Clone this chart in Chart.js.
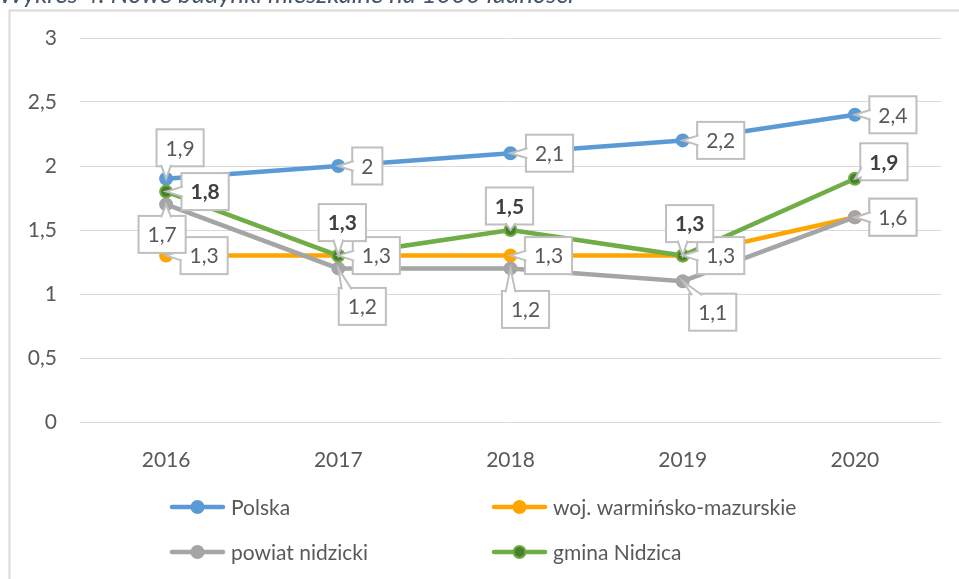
<!DOCTYPE html>
<html lang="pl">
<head>
<meta charset="utf-8">
<title>Nowe budynki mieszkalne na 1000 ludności</title>
<script src="https://cdn.jsdelivr.net/npm/chart.js@4.4.1/dist/chart.umd.min.js"></script>
<style>
  html, body { margin: 0; padding: 0; background: #fff; }
  #wrap { position: relative; width: 959px; height: 579px; }
</style>
</head>
<body>
<div id="wrap"><canvas id="myChart" width="959" height="579"></canvas></div>
<script>
// Dane
const lata = ['2016', '2017', '2018', '2019', '2020'];
const polska = [1.9, 2, 2.1, 2.2, 2.4];
const wojewodztwo = [1.3, 1.3, 1.3, 1.3, 1.6];
const powiat = [1.7, 1.2, 1.2, 1.1, 1.6];
const gmina = [1.8, 1.3, 1.5, 1.3, 1.9];
const nazwySerii = ['Polska', 'woj. warmińsko-mazurskie', 'powiat nidzicki', 'gmina Nidzica'];
const yTicks = [0, 0.5, 1, 1.5, 2, 2.5, 3];
const tytul = 'Wykres 4. Nowe budynki mieszkalne na 1000 ludności';

// Przesuniecia dymkow z etykietami (srodek dymka wzgledem punktu)
const przesuniecia = [
  [[14, -31], [29, 0], [39, 0], [38, 0], [38, 0]],
  [[38, 0], [38, 0], [38, 0], [38, 0], [38, 0]],
  [[-4, 30], [24, 38], [15, 41], [30, 31], [38, 0]],
  [[39, 0], [4, -33], [-1, -24], [7, -32], [29, -17]]
];

const FONT = 'Lato, "Open Sans", sans-serif';
Chart.defaults.font.family = FONT;

const przecinek = v => String(v).replace('.', ',');

// Rysuje dymek (prostokat + wskaznik do punktu)
function dymek(ctx, x, y, w, h, px, py) {
  const x1 = x + w, y1 = y + h;
  ctx.lineWidth = 2;
  ctx.strokeStyle = '#bfbfbf';
  ctx.fillStyle = '#ffffff';
  ctx.fillRect(x, y, w, h);
  ctx.strokeRect(x, y, w, h);
  const dxOut = px < x ? x - px : (px > x1 ? px - x1 : 0);
  const dyOut = py < y ? y - py : (py > y1 ? py - y1 : 0);
  if (dxOut === 0 && dyOut === 0) return;
  const b = 5;
  let a, c;
  if (dxOut >= dyOut) {
    const ex = px < x ? x + 1.5 : x1 - 1.5;
    const ey = Math.min(Math.max(py, y + b + 3), y1 - b - 3);
    a = [ex, ey - b]; c = [ex, ey + b];
  } else {
    const ey = py < y ? y + 1.5 : y1 - 1.5;
    const ex = Math.min(Math.max(px, x + b + 3), x1 - b - 3);
    a = [ex - b, ey]; c = [ex + b, ey];
  }
  ctx.beginPath();
  ctx.moveTo(a[0], a[1]);
  ctx.lineTo(px, py);
  ctx.lineTo(c[0], c[1]);
  ctx.fill();
  ctx.stroke();
}

// Tlo, ramka i (uciety) tytul
const tlo = {
  id: 'tlo',
  beforeDraw(chart) {
    const ctx = chart.ctx;
    ctx.save();
    ctx.fillStyle = '#ffffff';
    ctx.fillRect(0, 0, chart.width, chart.height);
    ctx.strokeStyle = '#d9d9d9';
    ctx.lineWidth = 2;
    ctx.beginPath();
    ctx.moveTo(9.5, chart.height);
    ctx.lineTo(9.5, 10.5);
    ctx.lineTo(chart.width, 10.5);
    ctx.stroke();
    ctx.font = 'italic 25.5px ' + FONT;
    ctx.fillStyle = '#44546a';
    ctx.textBaseline = 'alphabetic';
    ctx.fillText(tytul, -1, 3);
    ctx.restore();
  }
};

// Etykiety danych w dymkach
const etykiety = {
  id: 'etykiety',
  afterDatasetsDraw(chart) {
    const ctx = chart.ctx;
    ctx.save();
    chart.data.datasets.forEach((ds, i) => {
      const meta = chart.getDatasetMeta(i);
      meta.data.forEach((pt, j) => {
        const txt = przecinek(ds.data[j]);
        const bold = i === 3;
        ctx.font = (bold ? 'bold ' : '') + '21px ' + FONT;
        const w = ctx.measureText(txt).width + 18;
        const h = 37;
        const cx = pt.x + przesuniecia[i][j][0];
        const cy = pt.y + przesuniecia[i][j][1];
        dymek(ctx, cx - w / 2, cy - h / 2, w, h, pt.x, pt.y);
        ctx.fillStyle = bold ? '#404040' : '#595959';
        ctx.textAlign = 'center';
        ctx.textBaseline = 'middle';
        ctx.fillText(txt, cx, cy + 1);
      });
    });
    ctx.restore();
  }
};

// Legenda w dwoch kolumnach
const legenda = {
  id: 'legenda',
  afterDraw(chart) {
    const ctx = chart.ctx;
    const pozycje = [[172, 507], [494, 507], [172, 552], [494, 552]];
    chart.data.datasets.forEach((ds, i) => {
      const [x, y] = pozycje[i];
      ctx.save();
      ctx.strokeStyle = ds.borderColor;
      ctx.lineWidth = 4.5;
      ctx.lineCap = 'round';
      ctx.beginPath();
      ctx.moveTo(x, y);
      ctx.lineTo(x + 51, y);
      ctx.stroke();
      ctx.beginPath();
      ctx.arc(x + 25.5, y, 6, 0, Math.PI * 2);
      ctx.fillStyle = ds.pointBackgroundColor;
      ctx.fill();
      ctx.lineWidth = 2;
      ctx.strokeStyle = ds.pointBorderColor;
      ctx.stroke();
      ctx.fillStyle = '#595959';
      ctx.font = '21px ' + FONT;
      ctx.textAlign = 'left';
      ctx.textBaseline = 'middle';
      ctx.fillText(ds.label, x + 59, y + 1);
      ctx.restore();
    });
  }
};

function seria(nazwa, dane, kolor, srodek, kolejnosc) {
  return {
    label: nazwa,
    data: dane,
    borderColor: kolor,
    backgroundColor: kolor,
    pointBackgroundColor: srodek,
    pointBorderColor: kolor,
    pointRadius: 6,
    pointBorderWidth: 2,
    borderWidth: 4.5,
    tension: 0,
    order: kolejnosc
  };
}

const config = {
  type: 'line',
  data: {
    labels: lata,
    datasets: [
      seria(nazwySerii[0], polska, '#5b9bd5', '#5b9bd5', 3),
      seria(nazwySerii[1], wojewodztwo, '#ffa502', '#ffa502', 2),
      seria(nazwySerii[2], powiat, '#a5a5a5', '#a5a5a5', 1),
      seria(nazwySerii[3], gmina, '#70ad47', '#4a7d2c', 0)
    ]
  },
  options: {
    responsive: false,
    animation: false,
    layout: { padding: { top: 38, right: 18, bottom: 97, left: 0 } },
    plugins: {
      legend: { display: false },
      tooltip: { enabled: false },
      title: { display: false }
    },
    scales: {
      x: {
        offset: true,
        grid: { display: false },
        border: { display: false },
        ticks: { color: '#595959', font: { size: 21 }, padding: 18 },
        afterFit(s) { s.height = 60; }
      },
      y: {
        min: 0,
        max: 3,
        afterBuildTicks(s) { s.ticks = yTicks.map(v => ({ value: v })); },
        grid: { color: '#d9d9d9', lineWidth: 1, drawTicks: false },
        border: { display: false },
        ticks: { color: '#595959', font: { size: 21 }, padding: 23, callback: v => przecinek(v) },
        afterFit(s) { s.width = 80; }
      }
    }
  },
  plugins: [tlo, etykiety, legenda]
};

new Chart(document.getElementById('myChart'), config);
</script>
</body>
</html>
